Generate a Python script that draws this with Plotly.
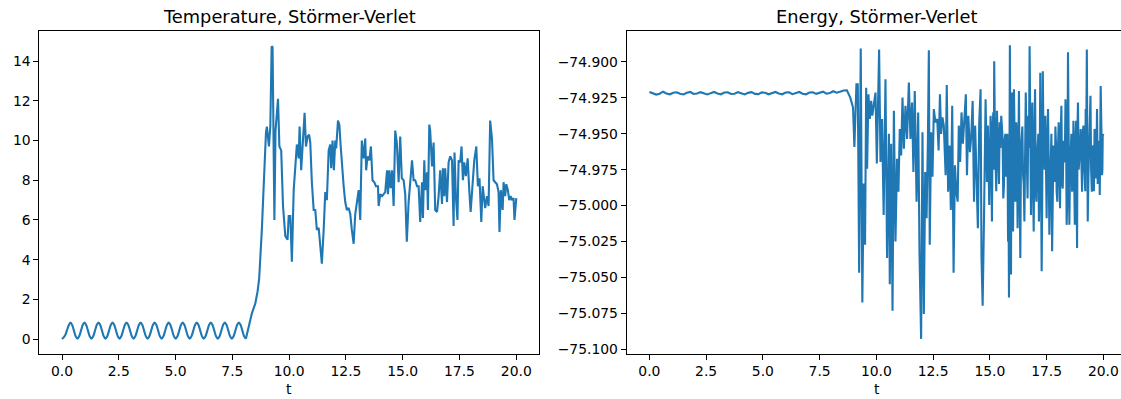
import plotly.graph_objects as go

# ---------------- data ----------------
# Temperature: regular oscillation phase (one row per oscillation period)
t_osc = [0.0, 0.14, 0.22, 0.30, 0.37,
         0.447, 0.525, 0.602, 0.679, 0.756, 0.834, 0.911, 0.988,
         1.065, 1.143, 1.220, 1.297, 1.374, 1.452, 1.529, 1.606,
         1.683, 1.761, 1.838, 1.915, 1.992, 2.070, 2.147, 2.224,
         2.301, 2.379, 2.456, 2.533, 2.610, 2.688, 2.765, 2.842,
         2.919, 2.997, 3.074, 3.151, 3.228, 3.306, 3.383, 3.460,
         3.537, 3.615, 3.692, 3.769, 3.846, 3.924, 4.001, 4.078,
         4.155, 4.233, 4.310, 4.387, 4.464, 4.542, 4.619, 4.696,
         4.773, 4.851, 4.928, 5.005, 5.082, 5.160, 5.237, 5.314,
         5.391, 5.469, 5.546, 5.623, 5.700, 5.778, 5.855, 5.932,
         6.009, 6.087, 6.164, 6.241, 6.318, 6.396, 6.473, 6.550,
         6.627, 6.705, 6.782, 6.859, 6.936, 7.014, 7.091, 7.168,
         7.245, 7.323, 7.400, 7.477, 7.554, 7.632, 7.709, 7.786,
         7.863, 7.941, 8.018, 8.095]
temp_osc = [0.0, 0.20, 0.45, 0.71, 0.83,
            0.71, 0.425, 0.14, 0.02, 0.14, 0.425, 0.71, 0.83,
            0.71, 0.425, 0.14, 0.02, 0.14, 0.425, 0.71, 0.83,
            0.71, 0.425, 0.14, 0.02, 0.14, 0.425, 0.71, 0.83,
            0.71, 0.425, 0.14, 0.02, 0.14, 0.425, 0.71, 0.83,
            0.71, 0.425, 0.14, 0.02, 0.14, 0.425, 0.71, 0.83,
            0.71, 0.425, 0.14, 0.02, 0.14, 0.425, 0.71, 0.83,
            0.71, 0.425, 0.14, 0.02, 0.14, 0.425, 0.71, 0.83,
            0.71, 0.425, 0.14, 0.02, 0.14, 0.425, 0.71, 0.83,
            0.71, 0.425, 0.14, 0.02, 0.14, 0.425, 0.71, 0.83,
            0.71, 0.425, 0.14, 0.02, 0.14, 0.425, 0.71, 0.83,
            0.71, 0.425, 0.14, 0.02, 0.14, 0.425, 0.71, 0.83,
            0.71, 0.425, 0.14, 0.02, 0.14, 0.425, 0.71, 0.83,
            0.71, 0.425, 0.14, 0.02]

# Temperature: melting / chaotic phase
t_temp = [8.095, 8.21, 8.36, 8.51, 8.61, 8.68, 8.74, 8.80, 8.86, 8.92, 8.98, 9.02, 9.07, 9.11,
          9.17, 9.23, 9.27, 9.35, 9.40, 9.46, 9.51, 9.57, 9.65, 9.73, 9.83, 9.93, 9.98, 10.05,
          10.12, 10.20, 10.27, 10.34, 10.42, 10.46, 10.53, 10.61, 10.68, 10.74, 10.81, 10.88,
          10.93, 11.00, 11.08, 11.15, 11.22, 11.30, 11.37, 11.44, 11.52, 11.59, 11.66, 11.74,
          11.81, 11.85, 11.91, 11.97, 12.03, 12.07, 12.15, 12.21, 12.27, 12.32, 12.40, 12.47,
          12.54, 12.62, 12.69, 12.76, 12.84, 12.91, 12.98, 13.06, 13.13, 13.20, 13.28, 13.35,
          13.39, 13.45, 13.53, 13.60, 13.67, 13.75, 13.82, 13.91, 13.94, 14.01, 14.09, 14.16,
          14.23, 14.31, 14.35, 14.41, 14.47, 14.53, 14.60, 14.67, 14.74, 14.82, 14.89, 14.96,
          15.04, 15.11, 15.18, 15.26, 15.33, 15.41, 15.48, 15.55, 15.63, 15.70, 15.77, 15.85,
          15.89, 15.95, 15.99, 16.07, 16.11, 16.17, 16.21, 16.29, 16.36, 16.43, 16.51, 16.58,
          16.65, 16.73, 16.77, 16.83, 16.87, 16.95, 17.02, 17.09, 17.17, 17.24, 17.28, 17.34,
          17.41, 17.46, 17.53, 17.59, 17.65, 17.71, 17.78, 17.86, 17.93, 17.99, 18.07, 18.15,
          18.24, 18.31, 18.38, 18.46, 18.52, 18.57, 18.63, 18.71, 18.78, 18.85, 18.93, 19.00,
          19.07, 19.15, 19.22, 19.26, 19.32, 19.40, 19.44, 19.51, 19.56, 19.63, 19.69, 19.75,
          19.81, 19.88, 19.92, 19.98, 20.00]
temp = [0.02, 0.55, 1.3, 1.8, 2.4, 3.05, 4.05, 5.55, 7.2, 8.9, 10.4, 10.7, 10.0, 9.7,
        10.7, 14.75, 14.7, 6.0, 10.5, 11.3, 12.1, 9.7, 9.5, 6.7, 5.2, 5.0, 6.2, 6.2,
        3.9, 7.5, 8.5, 9.8, 9.1, 10.7, 8.5, 9.9, 11.4, 9.7, 10.2, 10.3,
        9.9, 7.9, 6.5, 6.5, 5.5, 5.6, 4.7, 3.8, 5.5, 7.4, 7.0, 9.5,
        9.8, 8.6, 10.0, 8.5, 10.0, 9.6, 11.0, 10.8, 9.7, 8.8, 7.7, 6.9,
        6.5, 6.6, 6.3, 5.5, 4.8, 6.3, 7.0, 7.5, 6.0, 10.0, 9.1, 10.1,
        8.5, 9.2, 9.0, 9.7, 8.0, 7.9, 7.7, 7.7, 6.7, 7.3, 7.2, 7.3,
        7.4, 8.5, 7.3, 8.5, 7.6, 8.5, 6.7, 10.5, 9.9, 7.9, 10.2, 8.1,
        8.0, 7.3, 4.9, 6.9, 7.9, 9.0, 8.0, 8.0, 7.7, 7.7, 5.9, 7.9,
        6.1, 9.0, 7.5, 8.4, 6.5, 10.8, 10.5, 8.7, 9.9, 6.5, 6.4, 7.2,
        8.5, 6.8, 8.6, 7.2, 8.6, 6.9, 8.9, 9.2, 9.0, 5.7, 9.4, 7.2,
        6.0, 9.0, 8.9, 9.7, 8.0, 8.9, 8.2, 9.1, 7.5, 6.4, 7.7, 9.0,
        9.7, 7.7, 8.1, 5.9, 7.7, 7.0, 6.6, 7.2, 6.7, 11.0, 10.1, 8.0,
        7.9, 7.8, 7.4, 5.4, 7.5, 6.5, 7.9, 7.2, 7.8, 7.5, 7.0, 7.2,
        7.0, 7.1, 6.0, 7.1, 7.1]

# Energy: quiet phase
t_en_flat = [0.0, 0.15, 0.3, 0.45, 0.6, 0.75, 0.9, 1.05, 1.2, 1.35, 1.5, 1.65, 1.8, 1.95,
             2.1, 2.25, 2.4, 2.55, 2.7, 2.85, 3.0, 3.15, 3.3, 3.45, 3.6, 3.75, 3.9, 4.05,
             4.2, 4.35, 4.5, 4.65, 4.8, 4.95, 5.1, 5.25, 5.4, 5.55, 5.7, 5.85, 6.0, 6.15,
             6.3, 6.45, 6.6, 6.75, 6.9, 7.05, 7.2, 7.35, 7.5, 7.65, 7.8, 7.95, 8.1, 8.25,
             8.4, 8.55, 8.7]
en_flat = [-74.9210, -74.9218, -74.9228, -74.9222, -74.9208, -74.9220, -74.9226, -74.9215,
           -74.9212, -74.9222, -74.9227, -74.9216, -74.9210, -74.9224, -74.9221, -74.9211,
           -74.9219, -74.9227, -74.9218, -74.9210, -74.9221, -74.9226, -74.9214, -74.9212,
           -74.9224, -74.9222, -74.9211, -74.9218, -74.9227, -74.9216, -74.9211, -74.9223,
           -74.9225, -74.9213, -74.9215, -74.9226, -74.9219, -74.9210, -74.9221, -74.9226,
           -74.9214, -74.9213, -74.9225, -74.9219, -74.9210, -74.9222, -74.9226, -74.9214,
           -74.9212, -74.9223, -74.9218, -74.9208, -74.9222, -74.9217, -74.9205, -74.9215,
           -74.9208, -74.9200, -74.9198]

# Energy: chaotic phase
t_en_chaos = [8.85, 8.97, 9.03, 9.12, 9.18, 9.24, 9.31, 9.38, 9.44, 9.50, 9.55, 9.59, 9.65,
              9.71, 9.77, 9.82, 9.88, 9.96, 10.02, 10.07, 10.12, 10.18, 10.25, 10.32, 10.40,
              10.47, 10.55, 10.59, 10.65, 10.71, 10.77, 10.84, 10.91, 10.97, 11.03, 11.09,
              11.15, 11.21, 11.28, 11.35, 11.43, 11.50, 11.57, 11.63, 11.69, 11.77, 11.84,
              11.90, 11.97, 12.03, 12.09, 12.15, 12.21, 12.27, 12.31, 12.35, 12.41, 12.47,
              12.53, 12.60, 12.68, 12.74, 12.80, 12.85, 12.91, 12.97, 13.05, 13.10, 13.16,
              13.22, 13.28, 13.34, 13.40, 13.46, 13.52, 13.58, 13.63, 13.69, 13.75, 13.81,
              13.88, 13.94, 13.99, 14.05, 14.12, 14.18, 14.24, 14.30, 14.35, 14.41, 14.47,
              14.53, 14.59, 14.63, 14.68, 14.74, 14.81, 14.87, 14.91, 14.97, 15.03, 15.09,
              15.15, 15.19, 15.25, 15.31, 15.37, 15.43, 15.50, 15.56, 15.62, 15.68, 15.74,
              15.80, 15.84, 15.88, 15.93, 15.97, 16.02, 16.06, 16.12, 16.16, 16.22, 16.28,
              16.34, 16.40, 16.46, 16.52, 16.58, 16.63, 16.69, 16.75, 16.81, 16.87, 16.93,
              16.99, 17.05, 17.11, 17.16, 17.22, 17.28, 17.33, 17.38, 17.44, 17.50, 17.56,
              17.62, 17.68, 17.74, 17.80, 17.86, 17.91, 17.97, 18.03, 18.09, 18.15, 18.21,
              18.27, 18.33, 18.38, 18.44, 18.50, 18.56, 18.62, 18.68, 18.74, 18.80, 18.84,
              18.88, 18.94, 19.00, 19.06, 19.12, 19.18, 19.22, 19.27, 19.31, 19.37, 19.43,
              19.49, 19.55, 19.61, 19.66, 19.72, 19.78, 19.84, 19.88, 19.94, 19.97, 20.00]
en_chaos = [-74.9249, -74.9317, -74.9593, -74.9157, -74.9157, -75.0467, -74.8908, -75.0674,
            -74.9846, -75.0272, -74.9180, -74.9743, -74.9226, -74.9398, -74.9272, -74.9375,
            -74.9295, -74.9214, -74.9708, -74.9329, -74.8915, -74.9697, -74.9398, -75.0065,
            -74.9122, -75.0364, -74.9501, -75.0547, -74.9570, -75.0731, -74.9341, -75.0249,
            -74.9674, -74.9904, -74.9467, -74.9651, -74.9249, -74.9605, -74.9306, -74.9536,
            -74.9145, -74.9536, -74.9283, -74.9766, -74.9203, -74.9973, -74.9352, -75.0341,
            -75.0927, -74.9490, -75.0754, -74.9766, -75.0088, -74.9536, -74.8920, -75.0272,
            -74.9490, -74.9800, -74.9329, -74.9421, -74.9398, -74.9616, -74.9226, -74.9501,
            -74.9387, -74.9444, -74.9789, -74.9161, -74.9904, -74.9582, -75.0030, -74.9306,
            -75.0467, -74.9720, -74.9904, -74.9973, -74.9444, -74.9697, -74.9352, -74.9570,
            -74.9387, -74.9226, -74.9789, -74.9375, -74.9628, -74.9513, -74.9272, -74.9973,
            -74.9444, -74.9789, -75.0157, -74.9421, -74.9191, -75.0364, -75.0697, -75.0088,
            -74.9260, -74.9835, -74.9444, -74.9996, -74.9375, -75.0111, -74.9352, -74.8996,
            -74.9881, -74.9341, -74.9674, -74.9421, -74.9375, -74.9536, -74.9858, -74.9501,
            -74.9697, -75.0249, -75.0639, -74.8885, -75.0479, -74.9214, -75.0180, -74.9191,
            -74.9973, -74.9421, -75.0157, -74.9203, -75.0364, -74.9467, -74.9789, -75.0111,
            -74.9214, -74.9927, -74.9375, -74.8892, -75.0065, -74.9283, -75.0180, -74.9191,
            -74.9973, -74.9536, -75.0111, -74.9076, -75.0456, -74.9065, -74.9743, -74.9375,
            -75.0088, -74.9329, -75.0203, -74.9743, -75.0318, -74.9582, -74.9835, -74.9559,
            -74.9973, -74.9421, -75.0019, -74.9306, -74.9881, -74.9674, -74.9260, -75.0134,
            -74.8934, -75.0134, -74.9513, -74.9904, -74.9410, -75.0134, -74.9410, -75.0295,
            -74.9283, -74.9697, -74.9467, -74.9904, -74.9444, -74.9789, -74.9329, -74.8915,
            -75.0111, -74.9559, -74.9237, -74.9904, -74.9582, -74.9467, -74.9812, -74.9329,
            -74.9743, -74.9927, -74.9168, -74.9789, -74.9513, -74.9501]

# Energy: extra samples in the dense band (t 15-20)
t_en_dense = [15.06, 15.12, 15.17, 15.22, 15.28, 15.34, 15.40, 15.465, 15.53, 15.59,
              15.65, 15.71, 15.77, 15.82, 15.86, 15.905, 15.95, 15.995, 16.04, 16.09,
              16.14, 16.19, 16.25, 16.31, 16.37, 16.43, 16.49, 16.55, 16.605, 16.66,
              16.72, 16.78, 16.84, 16.90, 16.96, 17.02, 17.08, 17.135, 17.19, 17.25,
              17.305, 17.355, 17.41, 17.47, 17.53, 17.59, 17.65, 17.71, 17.77, 17.83,
              17.885, 17.94, 18.00, 18.06, 18.12, 18.18, 18.24, 18.30, 18.355, 18.41,
              18.47, 18.53, 18.59, 18.65, 18.71, 18.77, 18.82, 18.86, 18.91, 18.97,
              19.03, 19.09, 19.15, 19.20, 19.245, 19.29, 19.34, 19.40, 19.46, 19.52,
              19.58, 19.635, 19.69, 19.75, 19.81, 19.86, 19.91, 19.955]
en_dense = [-74.965, -74.945, -74.975, -74.950, -74.990, -74.955, -74.985, -74.960, -74.945, -74.995,
            -74.955, -74.980, -74.950, -74.990, -74.960, -74.975, -74.945, -74.985, -74.965, -74.955,
            -74.995, -74.950, -74.975, -74.990, -74.960, -74.945, -74.985, -74.970, -74.950, -74.995,
            -74.960, -74.975, -74.945, -74.985, -74.955, -74.990, -74.965, -74.950, -74.980, -74.960,
            -74.995, -74.945, -74.975, -74.985, -74.955, -74.970, -74.990, -74.950, -74.965, -74.980,
            -74.945, -74.990, -74.960, -74.975, -74.950, -74.985, -74.955, -74.970, -74.945, -74.995,
            -74.960, -74.975, -74.950, -74.985, -74.965, -74.955, -74.990, -74.945, -74.975, -74.960,
            -74.985, -74.950, -74.970, -74.990, -74.955, -74.965, -74.980, -74.945, -74.975, -74.960,
            -74.990, -74.950, -74.970, -74.985, -74.955, -74.965, -74.945, -74.975]

x_ticks = [0.0, 2.5, 5.0, 7.5, 10.0, 12.5, 15.0, 17.5, 20.0]
temp_ticks = [0, 2, 4, 6, 8, 10, 12, 14]
en_ticks = [-75.100, -75.075, -75.050, -75.025, -75.000, -74.975, -74.950, -74.925, -74.900]

# merge energy samples in time order
_en_pairs = sorted(zip(t_en_flat + t_en_chaos + t_en_dense, en_flat + en_chaos + en_dense))
t_energy = [p[0] for p in _en_pairs]
energy = [p[1] for p in _en_pairs]

# ---------------- layout geometry (pixels) ----------------
W, H = 1121, 399
L1, R1 = 39.3, 539.0
L2 = 626.7
TOP, BOT = 31.7, 356.5
PX_PER_T = 22.7


def fx(px):
    return px / W


def fy(py):
    return (H - py) / H


FONT = "DejaVu Sans"
BLUE = "#1f77b4"
TICK_FS = 13.9

fig = go.Figure()
fig.add_trace(go.Scatter(x=t_osc, y=temp_osc, mode="lines",
                         line=dict(color=BLUE, width=2.1, shape="spline", smoothing=0.8),
                         xaxis="x", yaxis="y", showlegend=False, hoverinfo="skip"))
fig.add_trace(go.Scatter(x=t_temp, y=temp, mode="lines", line=dict(color=BLUE, width=2.1),
                         xaxis="x", yaxis="y", showlegend=False))
fig.add_trace(go.Scatter(x=t_energy, y=energy, mode="lines",
                         line=dict(color=BLUE, width=2.1), xaxis="x2", yaxis="y2", showlegend=False))

common_axis = dict(showgrid=False, zeroline=False, showline=True, linecolor="black", linewidth=1.1,
                   ticks="outside", ticklen=4.9, tickwidth=1.1, tickcolor="black",
                   tickfont=dict(family=FONT, size=TICK_FS, color="black"))

x2_right = -1.0 + (W - L2) / PX_PER_T

fig.update_layout(
    width=W, height=H, margin=dict(l=0, r=0, t=0, b=0),
    paper_bgcolor="white", plot_bgcolor="white",
    font=dict(family=FONT, color="black"),
    xaxis=dict(domain=[fx(L1), fx(R1)], range=[-1.0, 21.0], anchor="y", mirror=True,
               tickvals=x_ticks, ticktext=[f"{v:.1f}" for v in x_ticks], **common_axis),
    yaxis=dict(domain=[fy(BOT), fy(TOP)], range=[-0.74, 15.49], anchor="x", mirror=True,
               tickvals=temp_ticks, ticktext=[str(v) for v in temp_ticks], **common_axis),
    xaxis2=dict(domain=[fx(L2), 1.0], range=[-1.0, x2_right], anchor="y2", mirror=True,
                tickvals=x_ticks, ticktext=[f"{v:.1f}" for v in x_ticks], **common_axis),
    yaxis2=dict(domain=[fy(BOT), fy(TOP)], range=[-75.1031, -74.8789], anchor="x2", mirror=False,
                tickvals=en_ticks, ticktext=[f"{v:.3f}".replace("-", "\u2212") for v in en_ticks],
                **common_axis),
)

c1 = (L1 + R1) / 2
c2 = L2 + (R1 - L1) / 2
for cx, title in [(c1, "Temperature, Störmer-Verlet"), (c2, "Energy, Störmer-Verlet")]:
    fig.add_annotation(x=fx(cx), y=fy(16.5), xref="paper", yref="paper", text=title,
                       showarrow=False, xanchor="center", yanchor="middle",
                       font=dict(family=FONT, size=17.8, color="black"))
    fig.add_annotation(x=fx(cx), y=fy(391.5), xref="paper", yref="paper", text="t",
                       showarrow=False, xanchor="center", yanchor="middle",
                       font=dict(family=FONT, size=TICK_FS, color="black"))

fig.write_html("out.html")
